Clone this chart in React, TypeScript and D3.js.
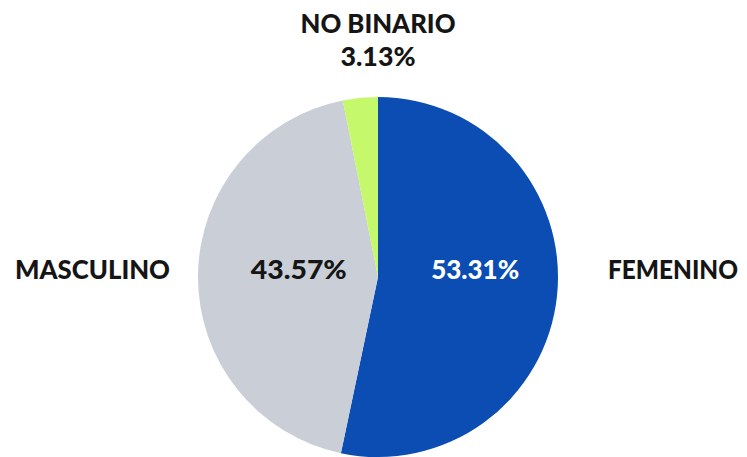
import React from 'react';
import * as d3 from 'd3';

const categories = ['FEMENINO', 'MASCULINO', 'NO BINARIO'];
const values = [53.31, 43.57, 3.13];
const colors = ['#0b4db2', '#c9ced7', '#c6f86c'];

const width = 747;
const height = 457;

const App: React.FC = () => {
  const r = 180;
  const cx = 378;
  const cy = 277;

  const pie = d3.pie<number>().sort(null).value(d => d);
  const arcs = pie(values);
  const arc = d3.arc<d3.PieArcDatum<number>>().innerRadius(0).outerRadius(r);

  const fmt = (v: number) => `${v.toFixed(2)}%`;
  const font = 'Lato, "Open Sans", sans-serif';
  const midY = -7;
  const common = {
    fontFamily: font,
    fontWeight: 900,
    fontSize: 26,
    dy: '0.35em',
    lengthAdjust: 'spacingAndGlyphs' as const,
  };

  return (
    <svg width={width} height={height} style={{ position: 'absolute', left: 0, top: 0, background: '#fff' }}>
      <g transform={`translate(${cx},${cy})`}>
        {arcs.map((a, i) => (
          <path key={categories[i]} d={arc(a) || ''} fill={colors[i]} />
        ))}
        {/* percent labels inside the two big slices */}
        <text {...common} x={r * 0.54} y={midY} textAnchor="middle" fill="#fff" textLength={88}>{fmt(values[0])}</text>
        <text {...common} x={-r * 0.44} y={midY} textAnchor="middle" fill="#151515" textLength={96}>{fmt(values[1])}</text>

        {/* category names outside */}
        <text {...common} x={r + 50} y={midY} textAnchor="start" fill="#151515" textLength={130}>{categories[0]}</text>
        <text {...common} x={-r - 28} y={midY} textAnchor="end" fill="#151515" textLength={155}>{categories[1]}</text>
        <text {...common} x={0} y={-r - 73} textAnchor="middle" fill="#151515" textLength={155}>{categories[2]}</text>
        <text {...common} x={0} y={-r - 40} textAnchor="middle" fill="#151515" textLength={75}>{fmt(values[2])}</text>
      </g>
    </svg>
  );
};

export default App;
